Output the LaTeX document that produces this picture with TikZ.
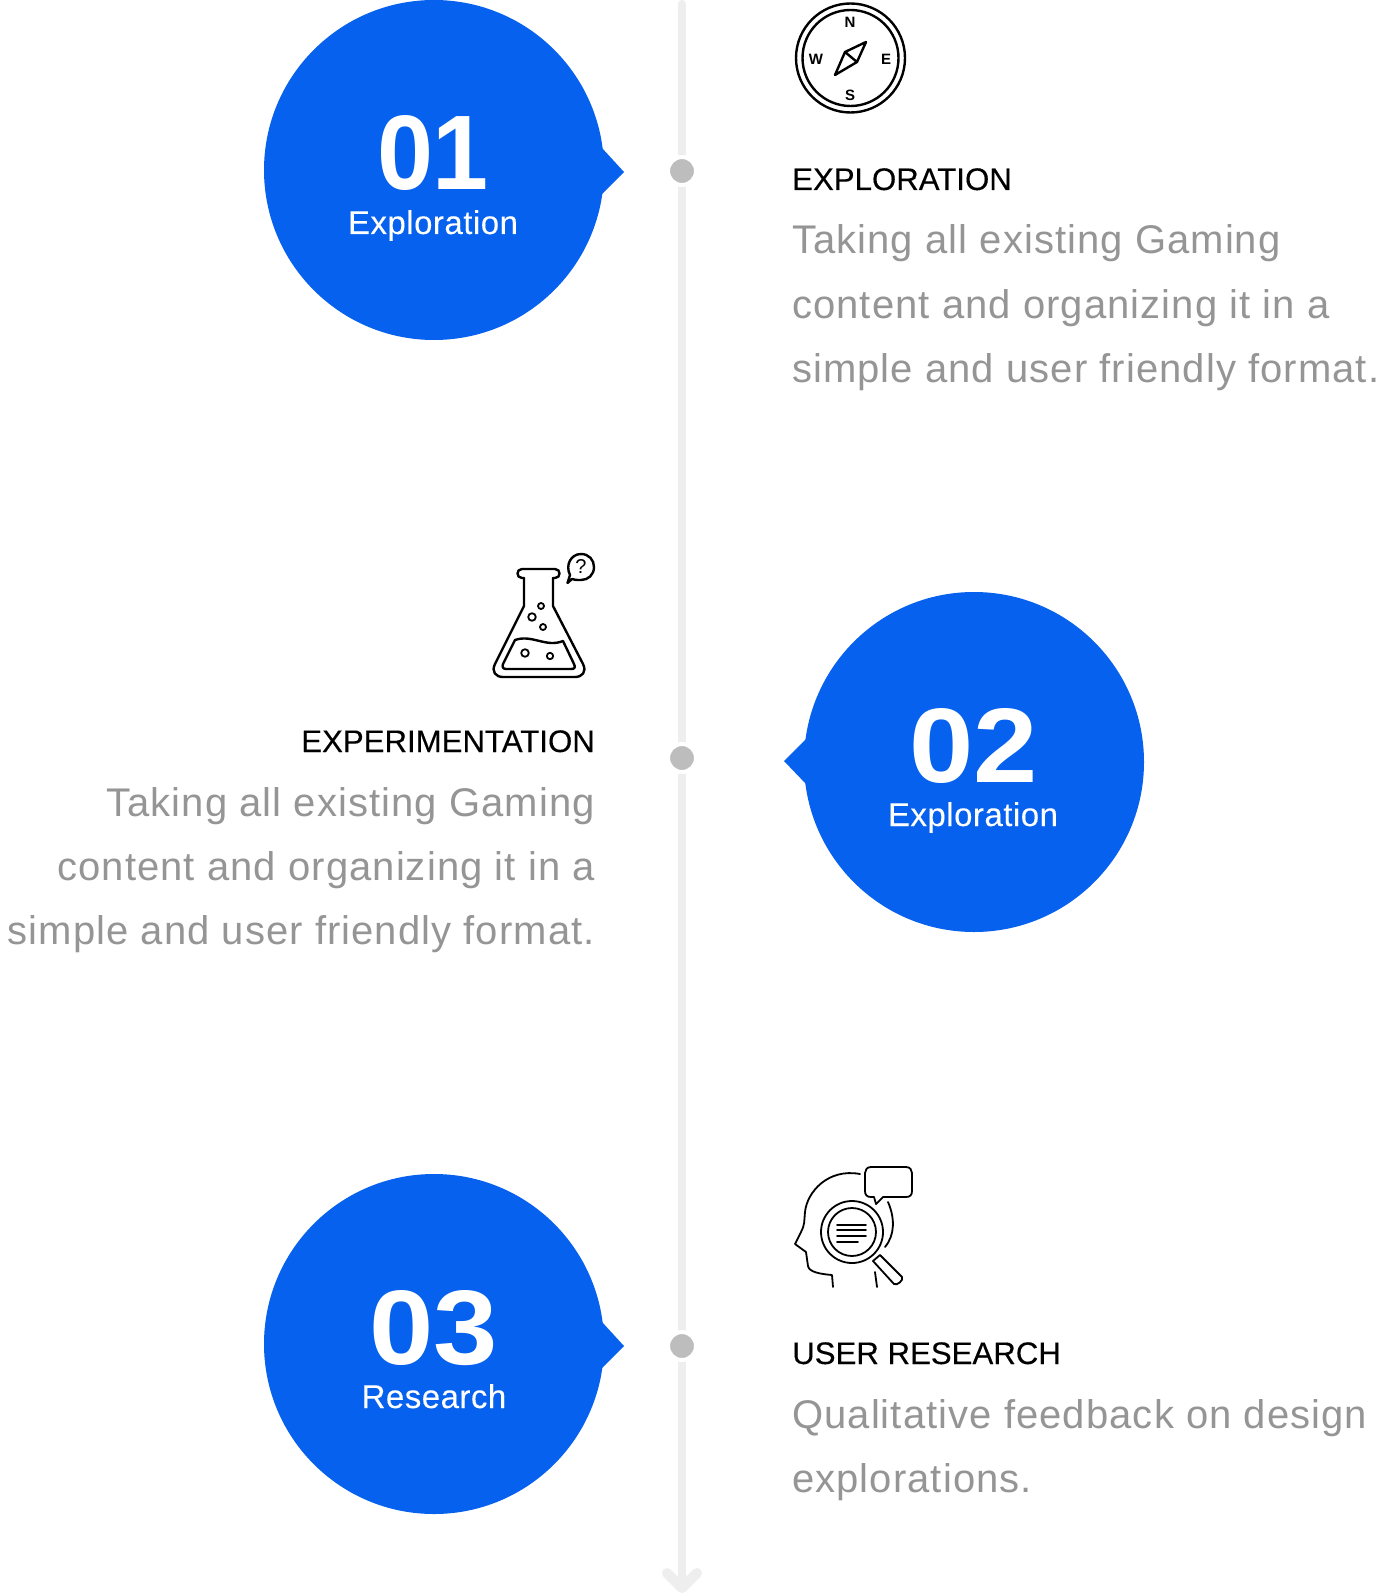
\documentclass[tikz,border=0pt]{standalone}
\usepackage{fontspec}
\setmainfont{Liberation Sans}
\newfontfamily\bodyfont[LetterSpace=2.7]{Liberation Sans}
\newfontfamily\headfont[FakeBold=0.25]{Liberation Sans}
\newfontfamily\labfont[FakeBold=0.15,LetterSpace=1.5]{Liberation Sans}
\newfontfamily\numwide[FakeStretch=1.09]{Liberation Sans}
\newfontfamily\numslim[FakeStretch=0.95]{Liberation Sans}
\definecolor{bluefill}{HTML}{0561EE}
\definecolor{railgrey}{HTML}{EEEEEE}
\definecolor{dotgrey}{HTML}{BDBDBD}
\definecolor{bodygrey}{HTML}{959595}
\tikzset{
  bubble/.style={fill=bluefill,draw=none},
  num/.style={text=white,font=\fontsize{106}{106}\selectfont\bfseries,anchor=base,inner sep=0},
  numlab/.style={text=white,font=\labfont\fontsize{33}{33}\selectfont,anchor=base,inner sep=0},
  head/.style={text=black,font=\headfont\fontsize{31.2}{31.2}\selectfont,inner sep=0},
  bodyline/.style={text=bodygrey,font=\bodyfont\fontsize{40}{40}\selectfont,inner sep=0},
  dot/.style={circle,fill=dotgrey,draw=white,line width=4pt,minimum size=28pt,inner sep=0},
  rail/.style={draw=railgrey,line width=8pt,line cap=round,line join=round},
  railtip/.style={draw=railgrey,line width=10pt,line cap=round,line join=round},
  ico/.style={draw=black,line width=2.4pt,line cap=round,line join=round},
  icothin/.style={draw=black,line width=1.8pt,line cap=round,line join=round},
  compass/.style={text=black,font=\fontsize{15}{15}\selectfont\bfseries,inner sep=0},
  qm/.style={text=black,font=\fontsize{20}{20}\selectfont,inner sep=0}
}
\begin{document}
\begin{tikzpicture}[x=1pt,y=-1pt]
\useasboundingbox[fill=white] (0,0) rectangle (1388,1594);
% rail
\coordinate (railtop) at (682,4);
\coordinate (railend) at (682,1586);
\coordinate (tipl) at (667,1573);
\coordinate (tipr) at (697,1573);
\coordinate (tipc) at (682,1588);
\draw[rail] (railtop) -- (railend);
\draw[railtip] (tipl) -- (tipc) -- (tipr);
\node[dot] (d1) at (682,171) {};
\node[dot] (d2) at (682,758) {};
\node[dot] (d3) at (682,1346) {};
% bubbles
\fill[bubble] (434,170) circle (170);
\fill[bubble] (602,148) -- (624,172) -- (602,194) -- cycle;
\fill[bubble] (974,762) circle (170);
\fill[bubble] (806,739) -- (784,761) -- (806,784) -- cycle;
\fill[bubble] (434,1344) circle (170);
\fill[bubble] (602,1322) -- (624,1346) -- (602,1368) -- cycle;
\node[num] (n1) at (433,190) {\numslim\bfseries 01};
\node[numlab] (l1) at (433,234) {Exploration};
\node[num] (n2) at (974,782) {\numwide\bfseries 02};
\node[numlab] (l2) at (973,826) {Exploration};
\node[num] (n3) at (434,1364) {\numwide\bfseries 03};
\node[numlab] (l3) at (434,1408) {Research};
% right text 1
\node[head,anchor=base west] (h1) at (792,190) {EXPLORATION};
\node[bodyline,anchor=base west] (b11) at (792,254) {Taking all existing Gaming};
\node[bodyline,anchor=base west] (b12) at (792,318) {content and organizing it in a};
\node[bodyline,anchor=base west] (b13) at (792,382) {simple and user friendly format.};
% left text 2
\node[head,anchor=base east] (h2) at (595,752) {EXPERIMENTATION};
\node[bodyline,anchor=base east] (b21) at (595,816) {Taking all existing Gaming};
\node[bodyline,anchor=base east] (b22) at (595,880) {content and organizing it in a};
\node[bodyline,anchor=base east] (b23) at (595,944) {simple and user friendly format.};
% right text 3
\node[head,anchor=base west] (h3) at (792,1364) {USER RESEARCH};
\node[bodyline,anchor=base west] (b31) at (792,1428) {Qualitative feedback on design};
\node[bodyline,anchor=base west] (b32) at (792,1492) {explorations.};
% compass icon
\draw[ico] (850.5,58) circle (54.5);
\draw[ico] (850.5,58) circle (48);
\node[compass] (cn) at (850,22) {N};
\node[compass] (cs) at (850,95) {S};
\node[compass] (cw) at (816,59) {W};
\node[compass] (ce) at (886,59) {E};
\draw[ico] (866,42) -- (857,62) -- (835,75) -- (845,52) -- cycle (845,52) -- (857,62);
% flask icon
\draw[ico] (524,578) -- (524,606) -- (495,664) .. controls (491,672) and (496,677) .. (503,677) -- (575,677) .. controls (582,677) and (587,672) .. (583,664) -- (553,606) -- (553,578);
\draw[ico] (524,578) -- (522,578) .. controls (516,578) and (516,569) .. (522,569) -- (555,569) .. controls (561,569) and (561,578) .. (555,578) -- (553,578);
\draw[ico] (515,640) .. controls (532,634) and (546,648) .. (563,641) -- (574,664) .. controls (576,668) and (574,669) .. (571,669) -- (506,669) .. controls (503,669) and (502,667) .. (503,664) -- cycle;
\draw[icothin] (541,606) circle (3);
\draw[icothin] (532,617) circle (3.8);
\draw[icothin] (543,627) circle (3);
\draw[icothin] (525,653) circle (3.8);
\draw[icothin] (550,656) circle (3.2);
\draw[ico] (567.5,583) -- (570,575) .. controls (565,565) and (571,554) .. (581,554) .. controls (589,554) and (594,560) .. (594,567) .. controls (594,575) and (588,580) .. (581,580) .. controls (577,580) and (574,580) .. (572,579) -- cycle;
\node[qm] (qq) at (581,567) {?};
% head icon
\draw[icothin] (860,1174) .. controls (828,1168) and (807,1192) .. (805,1212) .. controls (804,1222) and (805,1224) .. (801,1232) -- (795,1244) -- (806,1252) -- (808,1266) .. controls (809,1272) and (820,1274) .. (832,1275) -- (833,1287);
\draw[icothin] (888,1202) .. controls (895,1218) and (895,1235) .. (885,1247);
\draw[icothin] (875,1272) -- (877,1287);
\draw[icothin] (871,1167) -- (906,1167) .. controls (910,1167) and (912,1170) .. (912,1173) -- (912,1191) .. controls (912,1195) and (910,1197) .. (906,1197) -- (883,1197) -- (876,1204) -- (874,1197) -- (871,1197) .. controls (867,1197) and (865,1195) .. (865,1191) -- (865,1173) .. controls (865,1170) and (867,1167) .. (871,1167) -- cycle;
\draw[icothin] (852,1232) circle (31);
\draw[icothin] (852,1232) circle (24);
\draw[icothin] (837,1225) -- (866,1225) (837,1230) -- (866,1230) (837,1236) -- (866,1236) (837,1242) -- (858,1242);
\draw[icothin] (873,1261) -- (880,1255) .. controls (890,1265) and (895,1270) .. (902,1277) .. controls (904,1280) and (897,1286) .. (894,1284) -- cycle;
\end{tikzpicture}
\end{document}
